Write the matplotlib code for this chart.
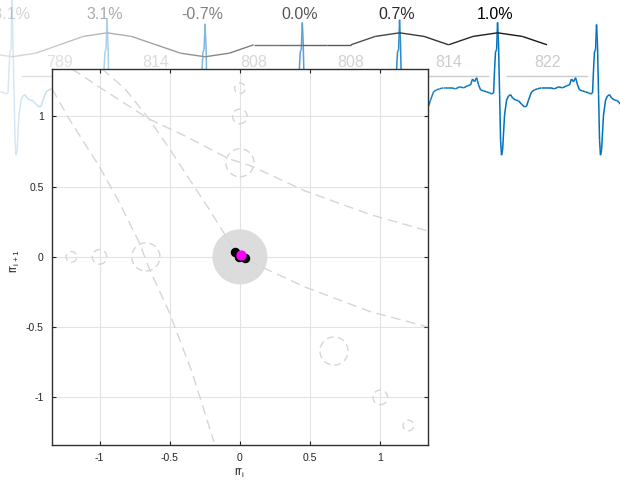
import numpy as np
import matplotlib.pyplot as plt
from matplotlib.collections import LineCollection
from matplotlib.patches import Circle

plt.rcParams['font.family'] = ['Liberation Sans', 'DejaVu Sans']

# RR intervals (ms) and beat-to-beat change (%) shown above each R peak
rr_ms = [789, 814, 808, 808, 814, 822]
rr_change = [-3.1, 3.1, -0.7, 0.0, 0.7, 1.0]

# one beat of the ECG: time from R peak (ms) and amplitude (mV)
beat_t = [-415, -382, -349, -316, -282, -249, -224, -208, -191, -174, -158, -141,
          -116, -91, -66, -50, -33, -25, -17, -8, 0, 8, 17, 25, 33, 42, 58, 75,
          91, 108, 125, 150, 174, 199, 224, 241, 257, 282, 307, 332, 365, 399, 432]
beat_v = [0.015, 0.03, 0.015, 0.044, 0.03, 0.06, 0.074, 0.16, 0.12, 0.18, 0.074, 0.0,
          -0.015, -0.03, -0.044, -0.06, -0.044, 0.29, 0.56, 0.59, 0.97, 0.66, -0.07,
          -0.74, -0.96, -0.88, -0.37, -0.15, -0.09, -0.07, -0.12, -0.15, -0.16,
          -0.21, -0.25, -0.24, -0.15, -0.03, 0.0, 0.015, 0.03, 0.03, 0.03]
r_amp = [1.45, 1.04, 0.97, 0.99, 1.03, 0.99, 0.96]

# shape of the trend hump around each R peak (-half RR .. +half RR)
hump_s = [-1.0, -0.5, 0.0, 0.5, 1.0]
hump_level = [0.0, 0.7, 1.0, 0.7, 0.0]

# Poincare plot: faded markers of earlier positions and connecting paths
ghost_x = [0, 0, 0, -0.67, -1.0, -1.2, 0.67, 1.0, 1.2]
ghost_y = [0.67, 1.0, 1.2, 0, 0, 0, -0.67, -1.0, -1.2]
ghost_r = [0.1, 0.052, 0.038, 0.1, 0.052, 0.038, 0.1, 0.052, 0.038]

path_a_x = [-1.338, -1.217, -1.004, -0.861, -0.719, -0.648, -0.505, -0.342, -0.185]
path_a_y = [1.196, 0.982, 0.648, 0.391, 0.107, -0.078, -0.391, -0.819, -1.317]
path_b_x = [-1.196, -0.982, -0.648, -0.391, -0.078, 0.078, 0.463, 0.932, 1.338]
path_b_y = [1.338, 1.196, 0.982, 0.861, 0.698, 0.648, 0.470, 0.300, 0.185]
path_c_x = [-0.982, -0.818, -0.648, -0.505, -0.391, -0.221, -0.057, 0.0, 0.078, 0.463, 0.932, 1.338]
path_c_y = [1.338, 1.196, 0.982, 0.775, 0.600, 0.342, 0.078, 0.0, -0.036, -0.214, -0.391, -0.498]

gain = 1.16
lim = 1.338

fig = plt.figure(figsize=(6.2, 4.82), dpi=100)

# ---- background: ECG strip with RR annotations, fading in over time ----
bg = fig.add_axes([0, 0, 1, 1])
bg.set_axis_off()
bg.set_xlim(-100, 5050)
bg.set_ylim(-5.76, 1.32)

t_r = np.concatenate([[0], np.cumsum(rr_ms)])


def fade(t):
    a = 1 / 6 + 5 / 6 * (np.asarray(t) - t_r[0]) / (t_r[5] - t_r[0])
    return np.clip(a, 0.08, 1.0)


def faded_segments(x, y, rgb):
    pts = np.column_stack([x, y])
    segs = np.stack([pts[:-1], pts[1:]], axis=1)
    a = fade(0.5 * (x[:-1] + x[1:]))[:, None]
    cols = 1 - a * (1 - np.array(rgb)[None, :])
    return segs, cols


ecg_t, ecg_v = [], []
bt = np.array(beat_t, float)
for k, tr in enumerate(t_r):
    lo = -rr_ms[k - 1] / 2 if k > 0 else bt[0]
    hi = rr_ms[k] / 2 if k < len(rr_ms) else bt[-1] + 1
    for dt, v in zip(beat_t, beat_v):
        if lo <= dt < hi:
            ecg_t.append(tr + dt)
            ecg_v.append(r_amp[k] if dt == 0 else v)
ecg_t = np.array(ecg_t)
ecg_v = np.array(ecg_v)
segs, cols = faded_segments(ecg_t, ecg_v, (0.0, 0.447, 0.741))
bg.add_collection(LineCollection(segs, colors=cols, linewidth=1.1))

# trend line of RR direction
tr_t, tr_l = [], []
for k, ch in enumerate(rr_change):
    half_l = rr_ms[k - 1] / 2 if k > 0 else rr_ms[0] / 2
    half_r = rr_ms[k] / 2
    for s, lv in zip(hump_s, hump_level):
        tr_t.append(t_r[k] + s * (half_l if s < 0 else half_r))
        tr_l.append(np.sign(ch) * lv)
tr_t = np.array(tr_t)
tr_y = 0.662 + 0.176 * np.array(tr_l)
segs, cols = faded_segments(tr_t, tr_y, (0.1, 0.1, 0.1))
bg.add_collection(LineCollection(segs, colors=cols, linewidth=1.0))

for k, ch in enumerate(rr_change):
    bg.text(t_r[k] - 20, 1.10, f"{ch:.1f}%", ha='center', va='center',
            fontsize=11.5, color='black', alpha=float(fade(t_r[k])))

for k, rr in enumerate(rr_ms):
    mid = 0.5 * (t_r[k] + t_r[k + 1])
    a = 0.45 + 0.55 * float(fade(mid))
    bg.text(mid, 0.40, f"{rr}", ha='center', va='center', fontsize=11.5,
            color='#cbcbcb', alpha=a)
    bg.plot([t_r[k] + 80, t_r[k + 1] - 80], [0.206, 0.206], color='#cbcbcb',
            alpha=a, lw=1.0)

# ---- Poincare plot of successive RR changes ----
ax = fig.add_axes([0.084, 0.077, 0.606, 0.780])
ax.set_facecolor('white')
ax.set_xlim(-lim, lim)
ax.set_ylim(-lim, lim)
ax.set_xticks([-1, -0.5, 0, 0.5, 1])
ax.set_yticks([-1, -0.5, 0, 0.5, 1])
ax.set_xticklabels(['-1', '-0.5', '0', '0.5', '1'])
ax.set_yticklabels(['-1', '-0.5', '0', '0.5', '1'])
ax.grid(True, color='#e3e3e3', lw=0.8)
ax.set_axisbelow(True)
ax.tick_params(direction='in', top=True, right=True, length=3, width=0.8,
               labelsize=7.5, colors='#262626', pad=6)
for sp in ax.spines.values():
    sp.set_color('#303030')
    sp.set_linewidth(1.0)

ax.add_patch(Circle((0, 0), 0.196, fc='#dcdcdc', ec='none', zorder=1))

dash = (0, (7, 4))
for px, py in [(path_a_x, path_a_y), (path_b_x, path_b_y), (path_c_x, path_c_y)]:
    ax.plot(px, py, ls=dash, color='#d6d6d6', lw=1.0, zorder=2)
for gx, gy, gr in zip(ghost_x, ghost_y, ghost_r):
    ax.add_patch(Circle((gx, gy), gr, fill=False, ec='#d6d6d6', lw=1.0,
                        ls=(0, (5, 3)), zorder=2))

pc = np.array(rr_change) / 100 * gain
ax.plot(pc[:-2], pc[1:-1], 'o', color='black', ms=5.8, zorder=3)
ax.plot(pc[-2], pc[-1], 'o', color='#ff00ff', ms=6.4, zorder=4)

ax.set_xlabel(r'$\mathregular{rr_{i}}$', fontsize=8.5, color='#262626')
ax.set_ylabel(r'$\mathregular{rr_{i+1}}$', fontsize=8.5, color='#262626')
ax.xaxis.set_label_coords(0.5, -0.055)
ax.yaxis.set_label_coords(-0.08, 0.49)

fig.savefig('out.png', dpi=100)
